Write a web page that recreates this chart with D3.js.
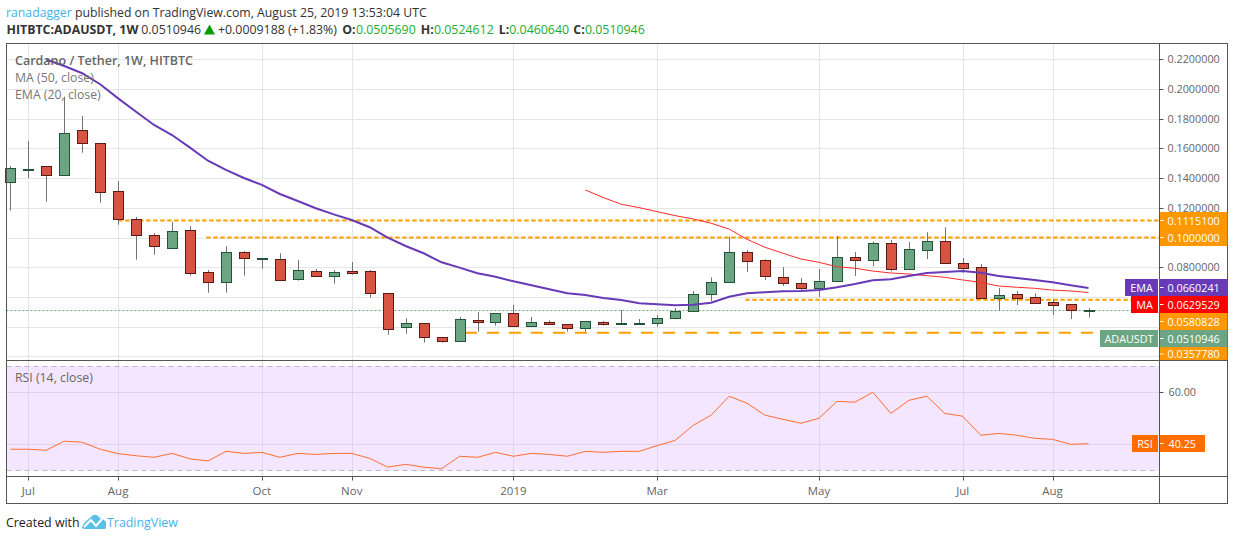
<!DOCTYPE html>
<html>
<head>
<meta charset="utf-8">
<style>
    html, body { margin: 0; padding: 0; background: #fff; }
    svg { display: block; }
    text { font-family: "Open Sans", sans-serif; }
</style>
</head>
<body>
<svg width="1234" height="540"></svg>
<script src="https://d3js.org/d3.v7.min.js"></script>
<script>
// weekly candles
let open_ = [.1372,.1462,.1479,.1419,.1722,.1634,.1311,.1123,.1015,.0927,.1048,.0766,.0698,.0900,.0858,.0853,.0719,.0772,.0739,.0772,.0772,.0624,.0395,.0422,.0328,.0301,.0442,.0429,.0490,.0402,.0429,.0415,.0389,.0429,.0421,.0421,.0422,.0456,.0503,.0618,.0698,.0900,.0846,.0732,.0692,.0663,.0705,.0867,.0851,.0961,.0786,.0918,.0974,.0826,.0799,.0595,.0618,.0597,.0564,.0550,.0505690];
let high = [.1481,.1650,.1481,.1948,.1818,.1636,.1380,.1138,.1030,.1104,.1077,.0781,.0941,.0909,.0861,.0894,.0848,.0788,.0781,.0835,.0781,.0627,.0456,.0424,.0330,.0465,.0498,.0491,.0545,.0465,.0442,.0417,.0437,.0438,.0512,.0451,.0478,.0525,.0640,.0732,.1005,.0916,.0853,.0801,.0727,.0788,.1010,.0902,.0974,.0983,.0970,.1035,.1069,.0862,.0822,.0660,.0640,.0624,.0586,.0551,.0524612];
let low = [.1180,.1401,.1241,.1419,.1571,.1234,.1086,.0851,.0884,.0927,.0743,.0628,.0628,.0743,.0790,.0710,.0710,.0736,.0689,.0750,.0595,.0345,.0352,.0292,.0292,.0300,.0366,.0406,.0401,.0401,.0411,.0366,.0366,.0407,.0420,.0420,.0399,.0449,.0502,.0570,.0697,.0768,.0714,.0673,.0646,.0599,.0704,.0741,.0808,.0772,.0781,.0855,.0825,.0763,.0593,.0507,.0545,.0559,.0478,.0451,.0460640];
let close_ = [.1468,.1464,.1419,.1702,.1634,.1304,.1123,.1015,.0941,.1042,.0759,.0698,.0900,.0860,.0860,.0712,.0779,.0743,.0766,.0759,.0624,.0382,.0422,.0328,.0305,.0449,.0429,.0490,.0402,.0429,.0415,.0389,.0436,.0415,.0423,.0423,.0456,.0503,.0618,.0698,.0900,.0840,.0739,.0692,.0663,.0705,.0867,.0851,.0961,.0786,.0921,.0974,.0826,.0797,.0595,.0611,.0595,.0561,.0547,.0510,.0510946];

// EMA 20 starts at candle 2, MA 50 at candle 32
let emaStart = 2;
let ema = [.2199,.2155,.2106,.2032,.1937,.1847,.1758,.1690,.1605,.1517,.1455,.1401,.1354,.1293,.1246,.1197,.1156,.1118,.1069,.0999,.0943,.0894,.0833,.0797,.0759,.0736,.0705,.0678,.0651,.0624,.0613,.0593,.0579,.0557,.0550,.0543,.0547,.0561,.0601,.0624,.0631,.0638,.0640,.0646,.0665,.0687,.0712,.0719,.0741,.0761,.0768,.0774,.0763,.0741,.0727,.0714,.0698,.0678,.0660241];
let maStart = 32;
let ma = [.1320,.1269,.1224,.1201,.1174,.1147,.1125,.1096,.1057,.0988,.0934,.0894,.0855,.0833,.0803,.0793,.0774,.0761,.0754,.0743,.0732,.0714,.0698,.0673,.0665,.0658,.0646,.0640,.0629529];

let rsi = [38.1,38.1,37.7,41.2,40.8,38.1,36.4,35.6,35.0,36.5,34.4,33.6,37.3,36.5,36.9,35.0,36.5,36.1,36.5,36.5,34.6,31.2,32.3,31.2,30.6,35.4,35.0,36.9,35.4,36.5,36.1,35.4,37.3,36.9,37.3,37.3,39.5,41.5,47.3,51.2,58.5,55.8,51.2,49.6,48.1,50.0,56.5,56.2,60.0,51.9,56.9,58.5,51.9,50.8,43.5,44.2,43.5,42.3,41.9,40.0,40.25];

let priceTicks = [0.22,0.20,0.18,0.16,0.14,0.12,0.10,0.08,0.06,0.04,0.02];
let priceLabels = [0.22,0.20,0.18,0.16,0.14,0.12,0.08];
let timeIdx = [1,6,14,19,28,36,45,53,58];
let timeLabels = ["Jul","Aug","Oct","Nov","2019","Mar","May","Jul","Aug"];

// horizontal levels: value, first candle, dash pattern
let levelValues = [0.11151,0.10,0.0580828,0.035778];
let levelStart = [6,10.9,40.9,25.3];
let levelDash = ["4.5 2.5","4.5 2.5","4.5 2.5","12 10"];

let svg = d3.select("svg");

let frameL = 6.5, frameR = 1159.5, mainT = 43.5, mainB = 360.5, rsiB = 476.5, axisB = 503.5, outerR = 1227.5;
let axisCol = "#555", gridCol = "#e6e6e6", up = "#6ba583", down = "#d75442", upEdge = "#225437", downEdge = "#5b1a13";

let x = d3.scaleLinear().domain([0,60]).range([10.3,1088.5]);
let y = d3.scaleLinear().domain([0.22,0.02]).range([59.3,356.3]);
let yr = d3.scaleLinear().domain([60,40]).range([392.3,444.3]);
let px = v => Math.round(v) + 0.5;
let labelX = 1167.5;

// header
let head = svg.append("text").attr("x",6).attr("y",17).style("font-size","12.27px").attr("fill","#333");
head.append("tspan").attr("fill","#46b3e8").text("ranadagger");
head.append("tspan").text(" published on TradingView.com, August 25, 2019 13:53:04 UTC");

let subText = ["HITBTC:ADAUSDT, 1W","0.0510946","+0.0009188 (+1.83%)","O:","0.0505690","H:","0.0524612","L:","0.0460640","C:","0.0510946"];
let subX = [6.5,141.3,218,342.3,356,420.7,434,498.7,509.3,573.3,585];
let subKind = ["b","n","n","b","g","b","g","b","g","b","g"];
svg.selectAll(".sub").data(subText).join("text")
    .attr("x",(d,i)=>subX[i]).attr("y",34).style("font-size","12.35px")
    .attr("font-weight",(d,i)=>subKind[i]=="b"?"bold":null)
    .attr("fill",(d,i)=>subKind[i]=="g"?"#22ab33":"#333")
    .text(d=>d);
svg.append("path").attr("d","M204 34.5 L209.5 24.5 L215 34.5 Z").attr("fill","#0a9a0a");

// rsi band
svg.append("rect").attr("x",frameL).attr("width",frameR-frameL)
    .attr("y",yr(70)).attr("height",yr(30)-yr(70)).attr("fill","#f4e6fe");

// grid
svg.selectAll(".hgrid").data(priceTicks).join("line")
    .attr("x1",frameL).attr("x2",frameR).attr("y1",d=>px(y(d))).attr("y2",d=>px(y(d)))
    .attr("stroke",gridCol);
[[mainT,mainB,gridCol],[mainB,rsiB,"#e0d6ea"]].forEach(p => {
    svg.selectAll(".vgrid").data(timeIdx).enter().append("line")
        .attr("x1",d=>px(x(d))).attr("x2",d=>px(x(d))).attr("y1",p[0]).attr("y2",p[1])
        .attr("stroke",p[2]);
});
svg.selectAll(".rgrid").data([60,40]).join("line")
    .attr("x1",frameL).attr("x2",frameR).attr("y1",d=>px(yr(d))).attr("y2",d=>px(yr(d)))
    .attr("stroke","#e0d0ee");
svg.selectAll(".rband").data([70,30]).join("line")
    .attr("x1",frameL).attr("x2",frameR).attr("y1",d=>px(yr(d))).attr("y2",d=>px(yr(d)))
    .attr("stroke","#c0b4cc").attr("stroke-dasharray","5 4");

// last price line
svg.append("line").attr("x1",frameL).attr("x2",frameR)
    .attr("y1",px(y(0.0510946))).attr("y2",px(y(0.0510946)))
    .attr("stroke",up).attr("stroke-dasharray","2 2");

// levels
svg.selectAll(".level").data(levelValues).join("line")
    .attr("x1",(d,i)=>x(levelStart[i])).attr("x2",frameR)
    .attr("y1",d=>y(d)).attr("y2",d=>y(d))
    .attr("stroke","#ffa000").attr("stroke-width",2)
    .attr("stroke-dasharray",(d,i)=>levelDash[i]);

// candles
let candles = d3.range(open_.length);
let bw = 10;
svg.selectAll(".wick").data(candles).join("line")
    .attr("x1",i=>px(x(i))).attr("x2",i=>px(x(i)))
    .attr("y1",i=>y(high[i])).attr("y2",i=>y(low[i]))
    .attr("stroke","#737375");
svg.selectAll(".body").data(candles).join("rect")
    .attr("x",i=>px(x(i))-bw/2).attr("width",bw)
    .attr("y",i=>px(y(Math.max(open_[i],close_[i]))))
    .attr("height",i=>Math.max(1,px(y(Math.min(open_[i],close_[i])))-px(y(Math.max(open_[i],close_[i])))))
    .attr("fill",i=>close_[i]>=open_[i]?up:down)
    .attr("stroke",i=>close_[i]>=open_[i]?upEdge:downEdge);

// moving averages
let line = d3.line().x(d=>x(d[0])).y(d=>y(d[1]));
svg.append("path").attr("d",line(ma.map((v,i)=>[maStart+i,v])))
    .attr("fill","none").attr("stroke","#ff2a2a").attr("stroke-width",1);
svg.append("path").attr("d",line(ema.map((v,i)=>[emaStart+i,v])))
    .attr("fill","none").attr("stroke","#673ab7").attr("stroke-width",2);

// rsi line
let rline = d3.line().x((d,i)=>x(i)).y(d=>yr(d));
svg.append("path").attr("d",rline(rsi)).attr("fill","none").attr("stroke","#ff6d2e").attr("stroke-width",1);

// frame
svg.append("rect").attr("x",frameL).attr("y",mainT).attr("width",outerR-frameL).attr("height",axisB-mainT)
    .attr("fill","none").attr("stroke",axisCol);
[mainB,rsiB].forEach(v => svg.append("line").attr("x1",frameL).attr("x2",outerR).attr("y1",v).attr("y2",v).attr("stroke",axisCol));
svg.append("line").attr("x1",frameR).attr("x2",frameR).attr("y1",mainT).attr("y2",axisB).attr("stroke",axisCol);

// time axis
svg.selectAll(".ttick").data(timeIdx).join("line")
    .attr("x1",d=>px(x(d))).attr("x2",d=>px(x(d))).attr("y1",rsiB).attr("y2",rsiB+4).attr("stroke",axisCol);
svg.selectAll(".tlab").data(timeIdx).join("text")
    .attr("x",d=>x(d)).attr("y",495).attr("text-anchor","middle")
    .style("font-size","11.5px").attr("fill","#666").text((d,i)=>timeLabels[i]);

// price axis
svg.selectAll(".ptick").data(priceLabels).join("line")
    .attr("x1",frameR).attr("x2",frameR+4).attr("y1",d=>px(y(d))).attr("y2",d=>px(y(d))).attr("stroke",axisCol);
svg.selectAll(".plab").data(priceLabels).join("text")
    .attr("x",labelX).attr("y",d=>y(d)+4).style("font-size","10.8px").attr("fill","#666").text(d=>d.toFixed(7));

// tags on the price axis: text, colour, top and bottom of the box
let tagText = ["0.1115100","0.1000000","0.0660241","0.0629529","0.0580828","0.0510946","0.0357780"];
let tagColor = ["#ff9800","#ff9800","#673ab7","#ff0000","#ff9800","#6ba583","#ff9800"];
let tagTop = [212,229,279,296,313,330,347];
let tagBottom = [229,246,296,313,330,347,360];
svg.selectAll(".tag").data(tagText).join("rect")
    .attr("x",frameR+0.5).attr("width",outerR-frameR-0.5).attr("y",(d,i)=>tagTop[i]).attr("height",(d,i)=>tagBottom[i]-tagTop[i])
    .attr("fill",(d,i)=>tagColor[i]);
svg.selectAll(".tagtick").data(tagText).join("line")
    .attr("x1",frameR+0.5).attr("x2",frameR+4)
    .attr("y1",(d,i)=>Math.min(tagTop[i]+8.5,tagBottom[i]-6)).attr("y2",(d,i)=>Math.min(tagTop[i]+8.5,tagBottom[i]-6))
    .attr("stroke","#fff");
svg.selectAll(".tagt").data(tagText).join("text")
    .attr("x",labelX).attr("y",(d,i)=>Math.min(tagTop[i]+12.5,tagBottom[i]-2)).style("font-size","10.8px").attr("fill","#fff").text(d=>d);

// name tags left of the axis
let nameText = ["EMA","MA","ADAUSDT"];
let nameColor = ["#673ab7","#ff0000","#6ba583"];
let nameTop = [279,296,330];
let nameLeft = [1125,1131,1100];
svg.selectAll(".ntag").data(nameText).join("rect")
    .attr("x",(d,i)=>nameLeft[i]).attr("width",(d,i)=>1158-nameLeft[i])
    .attr("y",(d,i)=>nameTop[i]).attr("height",17).attr("fill",(d,i)=>nameColor[i]);
svg.selectAll(".ntagt").data(nameText).join("text")
    .attr("x",(d,i)=>(nameLeft[i]+1158)/2).attr("y",(d,i)=>nameTop[i]+12.5).attr("text-anchor","middle")
    .style("font-size","10.8px").attr("fill","#fff").text(d=>d);
svg.append("line").attr("x1",1158.5).attr("x2",1158.5).attr("y1",279).attr("y2",347).attr("stroke","#fff");

// rsi tag
svg.append("rect").attr("x",1132).attr("y",435).attr("width",26).attr("height",17).attr("fill","#ff6d00");
svg.append("text").attr("x",1145).attr("y",447.5).attr("text-anchor","middle").style("font-size","10.8px").attr("fill","#fff").text("RSI");
svg.append("rect").attr("x",frameR+0.5).attr("y",435).attr("width",45).attr("height",17).attr("fill","#ff6d00");
svg.append("line").attr("x1",frameR+0.5).attr("x2",frameR+4).attr("y1",443.5).attr("y2",443.5).attr("stroke","#fff");
svg.append("text").attr("x",labelX+1).attr("y",447.5).style("font-size","10.8px").attr("fill","#fff").text("40.25");
svg.append("line").attr("x1",frameR).attr("x2",frameR+4).attr("y1",px(yr(60))).attr("y2",px(yr(60))).attr("stroke",axisCol);
svg.append("text").attr("x",labelX+1).attr("y",yr(60)+4).style("font-size","10.8px").attr("fill","#666").text("60.00");

// legends
svg.append("text").attr("x",15).attr("y",65).style("font-size","12.5px").attr("font-weight","600").attr("fill","#666").text("Cardano / Tether, 1W, HITBTC");
svg.append("text").attr("x",15).attr("y",82).style("font-size","12.3px").attr("fill","#777").text("MA (50, close)");
svg.append("text").attr("x",15).attr("y",99).style("font-size","12.3px").attr("fill","#777").text("EMA (20, close)");
svg.append("text").attr("x",15).attr("y",382).style("font-size","12.3px").attr("fill","#666").text("RSI (14, close)");

// footer
svg.append("text").attr("x",6).attr("y",527).style("font-size","12.4px").attr("fill","#222").text("Created with");
svg.append("path").attr("d","M82 528 C83 522 88 520 91 517 C93 514 97 514 99 517 C101 519 104 519 106 522 L106 528 Q106 529 104 529 L84 529 Z").attr("fill","#5bc0e8");
svg.append("path").attr("d","M84 527 L91 520 L96 526 L102 519").attr("fill","none").attr("stroke","#fff").attr("stroke-width",2);
svg.append("text").attr("x",107).attr("y",527).style("font-size","12.4px").attr("fill","#46b3e8").text("TradingView");
</script>
</body>
</html>
